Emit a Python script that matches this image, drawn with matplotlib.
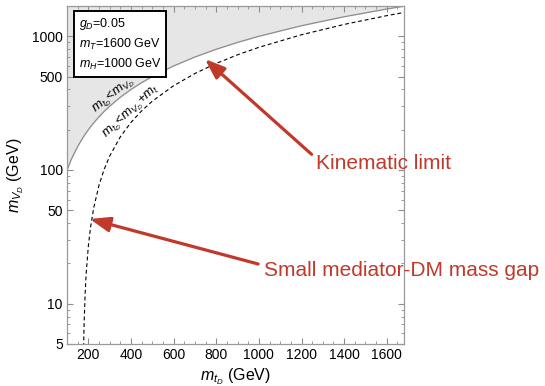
import numpy as np
import matplotlib
matplotlib.use("Agg")
import matplotlib.pyplot as plt
from matplotlib.ticker import FixedLocator, NullFormatter

plt.rcParams['font.family'] = ['Liberation Sans', 'DejaVu Sans']
plt.rcParams['mathtext.fontset'] = 'custom'
plt.rcParams['mathtext.rm'] = 'Liberation Sans'
plt.rcParams['mathtext.it'] = 'Liberation Sans:italic'

# ---- data ----
m_top = 173.0
mtD = np.array([100, 120, 150, 173.5, 175, 177, 180, 185, 190, 200, 210, 225, 250, 275,
                300, 350, 400, 450, 500, 600, 700, 800, 900, 1000, 1200, 1400, 1600, 1700], float)
kin_limit = mtD                  # m_VD = m_tD
gap_limit = mtD - m_top          # m_VD = m_tD - m_t
x_ticks = [200, 400, 600, 800, 1000, 1200, 1400, 1600]
y_ticks = [5, 10, 50, 100, 500, 1000]
legend_lines = [r"$g_D$=0.05", r"$m_T$=1600 GeV", r"$m_H$=1000 GeV"]
annotations = [("Kinematic limit", (747, 675), (1270, 112)),
               ("Small mediator-DM mass gap", (207, 43), (1022, 17.8))]

xmin, xmax, ymin, ymax = 100, 1680, 5, 1680

fig = plt.figure(figsize=(5.45, 3.86), dpi=100)
ax = fig.add_axes([0.123, 0.109, 0.618, 0.875])
ax.set_yscale('log')
ax.set_xlim(xmin, xmax)
ax.set_ylim(ymin, ymax)

ax.fill_between(mtD, kin_limit, ymax * 2, color='#e6e6e6', lw=0, zorder=1)
ax.plot(mtD, kin_limit, color='#8c8c8c', lw=0.9, zorder=2)
m = gap_limit > 0
ax.plot(mtD[m], gap_limit[m], color='black', lw=0.8, ls=(0, (3.5, 2.5)), zorder=2)

# ticks
ax.xaxis.set_major_locator(FixedLocator(x_ticks))
ax.xaxis.set_minor_locator(FixedLocator(np.arange(100, 1700, 50)))
ax.yaxis.set_major_locator(FixedLocator(y_ticks))
minors = [v * d for d in (1, 10, 100, 1000) for v in range(2, 10)]
ax.yaxis.set_minor_locator(FixedLocator(minors))
ax.yaxis.set_minor_formatter(NullFormatter())
ax.set_yticklabels([str(v) for v in y_ticks])
ax.tick_params(which='both', direction='in', top=True, right=True, color='#8c8c8c',
               labelsize=10, pad=3)
ax.tick_params(which='major', length=4.5, width=0.8)
ax.tick_params(which='minor', length=2.5, width=0.6)
for s in ax.spines.values():
    s.set_color('#9a9a9a')
    s.set_linewidth(0.9)

ax.set_xlabel(r"$m_{t_D}$ (GeV)", fontsize=11.5, labelpad=3)
ax.set_ylabel(r"$m_{V_D}$ (GeV)", fontsize=11.5, labelpad=4)

# legend box
ax.text(0.035, 0.97, "\n".join(legend_lines), transform=ax.transAxes, fontsize=9,
        va='top', ha='left', linespacing=1.45, zorder=5,
        bbox=dict(boxstyle='square,pad=0.35', fc='white', ec='black', lw=1.4))

# curve labels
ax.text(318, 362, r"$m_{t_D}$<$m_{V_D}$", rotation=39, fontsize=9.5, ha='center', va='center',
        zorder=4)
ax.text(400, 272, r"$m_{t_D}$<$m_{V_D}$+$m_t$", rotation=43, fontsize=9.5, ha='center',
        va='center', zorder=4)

red = '#c0392b'
for txt, xy, xytext in annotations:
    ax.annotate(txt, xy=xy, xytext=xytext, textcoords='data', color=red, fontsize=15,
                ha='left', va='center', zorder=6,
                arrowprops=dict(arrowstyle='-|>,head_length=0.8,head_width=0.3',
                                color=red, lw=2.3, shrinkA=2, shrinkB=0,
                                relpos=(0, 0.75)))

fig.savefig("out.png", dpi=100)
